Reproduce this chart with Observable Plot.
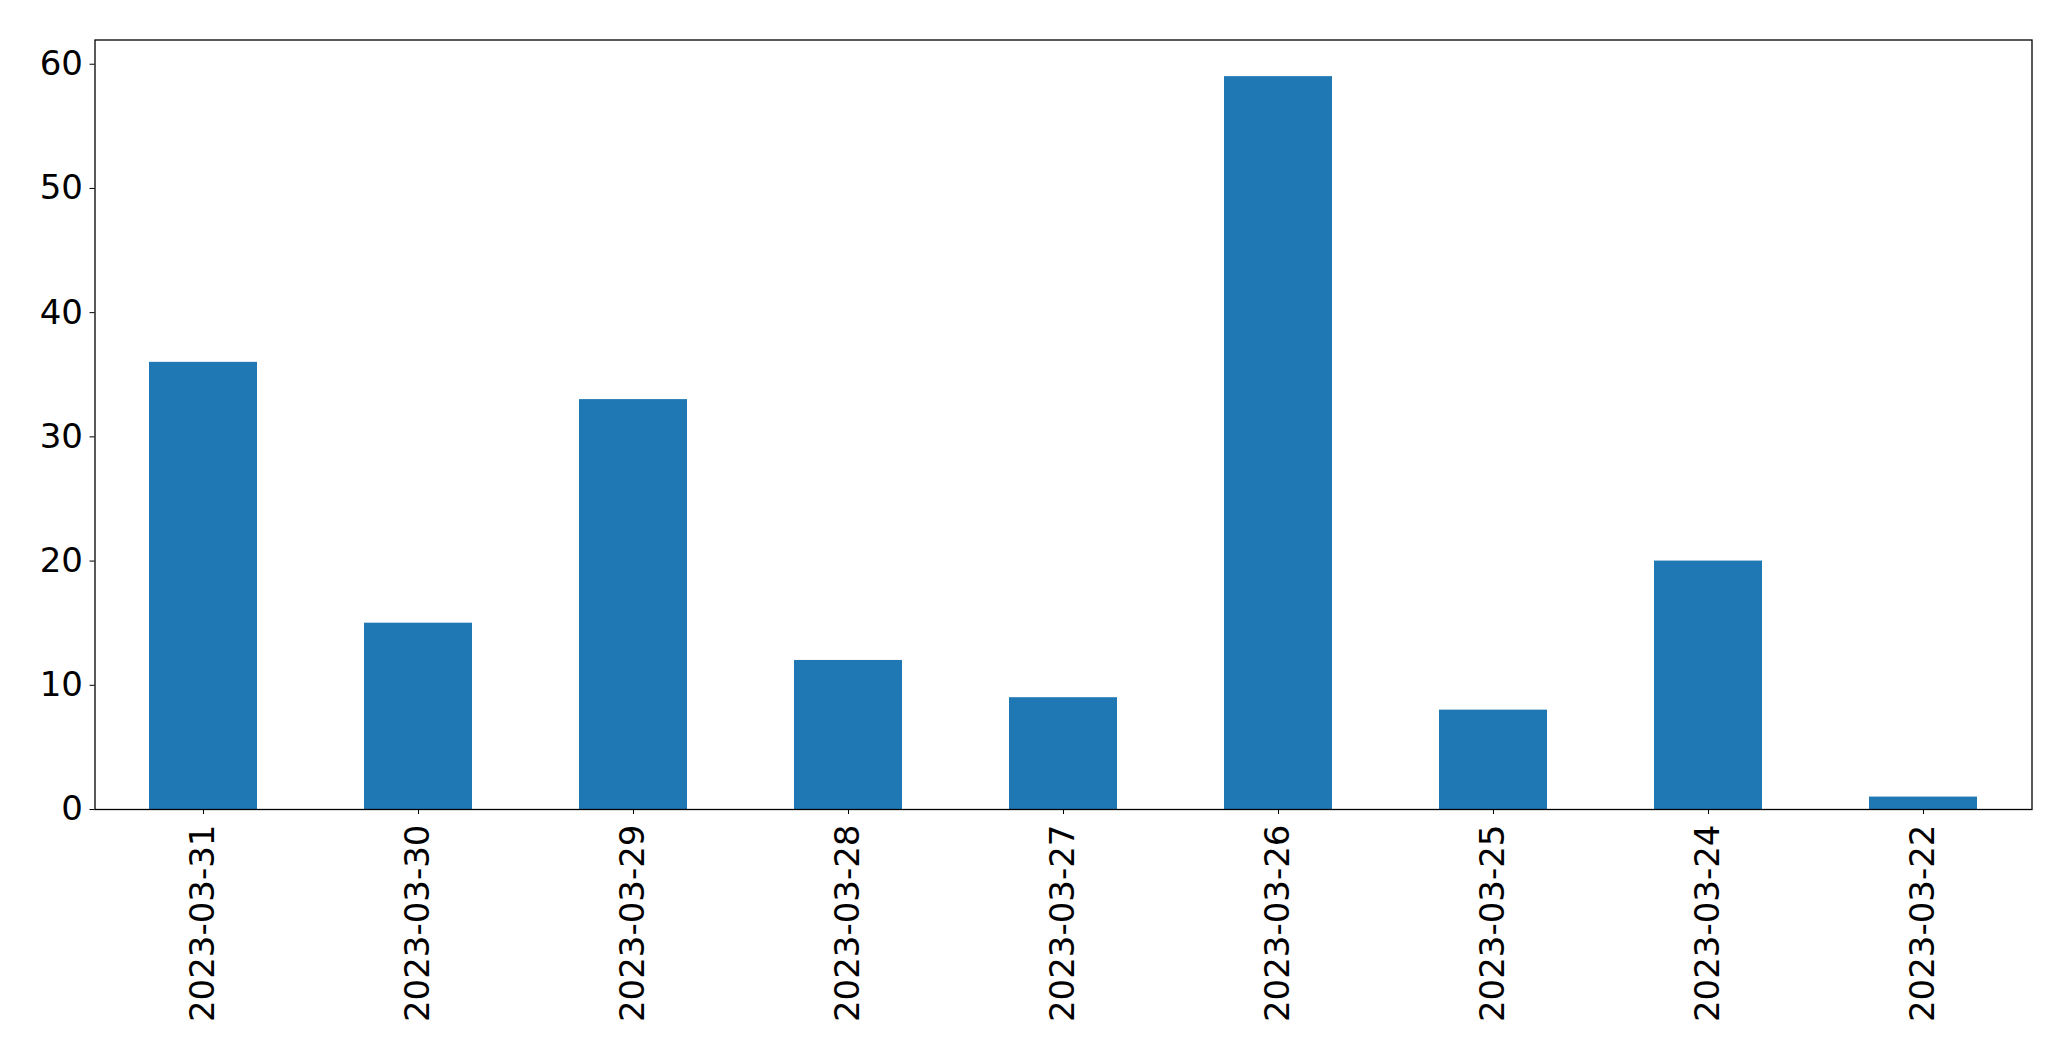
<!DOCTYPE html>
<html>
<head>
<meta charset="utf-8">
<script src="https://cdn.jsdelivr.net/npm/d3@7"></script>
<script src="https://cdn.jsdelivr.net/npm/@observablehq/plot@0.6"></script>
<style>
  html, body { margin: 0; padding: 0; background: #fff; }
  #chart svg { display: block; }
</style>
</head>
<body>
<div id="chart"></div>
<script>
const dates = ["2023-03-31", "2023-03-30", "2023-03-29", "2023-03-28", "2023-03-27", "2023-03-26", "2023-03-25", "2023-03-24", "2023-03-22"];
const counts = [36, 15, 33, 12, 9, 59, 8, 20, 1];
const yTicks = [0, 10, 20, 30, 40, 50, 60];

const data = dates.map((d, i) => ({date: d, count: counts[i]}));

const chart = Plot.plot({
  width: 2071,
  height: 1061,
  marginLeft: 94.5,
  marginRight: 39.5,
  marginTop: 39.5,
  marginBottom: 252,
  style: {fontFamily: "DejaVu Sans", fontSize: "34px", color: "black", background: "white"},
  x: {domain: dates, paddingInner: 0.5, paddingOuter: 0.25, label: null},
  y: {domain: [0, 61.95], label: null},
  marks: [
    Plot.barY(data, {x: "date", y: "count", fill: "#1f77b4"}),
    Plot.axisY({ticks: yTicks, tickSize: 5, tickPadding: 7, label: null, fontSize: 34, tickFormat: d => String(d)}),
    Plot.axisX({tickSize: 5, tickRotate: -90, tickPadding: 10, label: null, fontSize: 34}),
    Plot.frame({stroke: "black", strokeWidth: 1.3})
  ]
});
document.getElementById("chart").appendChild(chart);
</script>
</body>
</html>
